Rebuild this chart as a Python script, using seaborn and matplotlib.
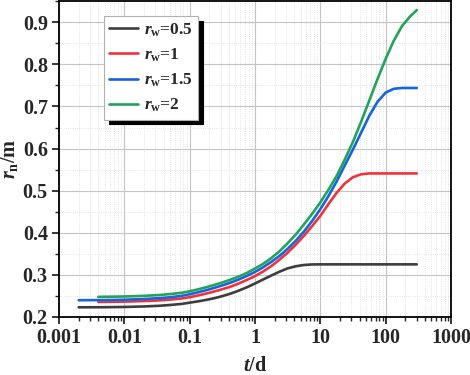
import numpy as np
import pandas as pd
import matplotlib
matplotlib.use("Agg")
import matplotlib.pyplot as plt
import matplotlib.ticker as mticker
import seaborn as sns

# Data (t in days, r_n in metres)
t_a = [0.002, 0.005, 0.01, 0.02, 0.035, 0.05, 0.075,
       0.1, 0.133, 0.178, 0.237, 0.316, 0.422, 0.562, 0.75,
       1, 1.33, 1.78, 2.37, 3.16, 4.22, 5.62, 7.5,
       10, 13.3, 17.8, 23.7, 31.6, 42.2, 56.2, 75,
       100, 133, 178, 237, 300]
t_b = [0.004] + t_a[2:]

rn_05 = [0.223, 0.2232, 0.2238, 0.225, 0.2267, 0.2285, 0.231,
         0.234, 0.237, 0.2405, 0.2445, 0.2495, 0.2555, 0.2625, 0.2705,
         0.2795, 0.289, 0.2985, 0.3075, 0.3155, 0.3205, 0.3235, 0.3248,
         0.325, 0.325, 0.325, 0.325, 0.325, 0.325, 0.325, 0.325,
         0.325, 0.325, 0.325, 0.325, 0.325]
rn_1 = [0.2358, 0.2365, 0.2378, 0.2395, 0.2413, 0.244,
        0.247, 0.251, 0.2555, 0.2605, 0.266, 0.272, 0.2795, 0.288,
        0.297, 0.308, 0.321, 0.336, 0.353, 0.372, 0.393, 0.416,
        0.440, 0.468, 0.495, 0.517, 0.532, 0.539, 0.541, 0.541,
        0.541, 0.541, 0.541, 0.541, 0.541]
rn_15 = [0.2398, 0.2402, 0.241, 0.2427, 0.2448, 0.2468, 0.2502,
         0.254, 0.2585, 0.2635, 0.269, 0.275, 0.2815, 0.289, 0.2975,
         0.307, 0.318, 0.331, 0.345, 0.362, 0.381, 0.403, 0.428,
         0.456, 0.487, 0.522, 0.560, 0.598, 0.638, 0.678, 0.711,
         0.733, 0.742, 0.744, 0.744, 0.744]
rn_2 = [0.2478, 0.2487, 0.2502, 0.2523, 0.2544, 0.2575,
        0.261, 0.2655, 0.2705, 0.276, 0.282, 0.2885, 0.296, 0.3045,
        0.315, 0.326, 0.340, 0.356, 0.375, 0.396, 0.420, 0.445,
        0.472, 0.502, 0.535, 0.574, 0.616, 0.664, 0.714, 0.765,
        0.813, 0.856, 0.891, 0.914, 0.929]

x_ticks = [0.001, 0.01, 0.1, 1, 10, 100, 1000]
x_ticklabels = ["0.001", "0.01", "0.1", "1", "10", "100", "1000"]
y_ticks = [0.2, 0.3, 0.4, 0.5, 0.6, 0.7, 0.8, 0.9]

labels = [r"$r_\mathrm{w}$=0.5", r"$r_\mathrm{w}$=1",
          r"$r_\mathrm{w}$=1.5", r"$r_\mathrm{w}$=2"]
colors = ["#3d3d3d", "#f0333a", "#1664e0", "#23a259"]

df = pd.concat([
    pd.DataFrame({"t": t_a, "rn": rn_05, "case": labels[0]}),
    pd.DataFrame({"t": t_b, "rn": rn_1, "case": labels[1]}),
    pd.DataFrame({"t": t_a, "rn": rn_15, "case": labels[2]}),
    pd.DataFrame({"t": t_b, "rn": rn_2, "case": labels[3]}),
], ignore_index=True)

sns.set_style("ticks")
plt.rcParams["font.family"] = ["Liberation Serif", "DejaVu Serif"]
plt.rcParams["font.weight"] = "bold"
plt.rcParams["mathtext.fontset"] = "custom"
plt.rcParams["mathtext.rm"] = "Liberation Serif:bold"
plt.rcParams["mathtext.it"] = "Liberation Serif:bold:italic"
plt.rcParams["mathtext.bf"] = "Liberation Serif:bold"

fig = plt.figure(figsize=(4.7, 3.75), dpi=100)
ax = fig.add_axes([0.1255, 0.1547, 0.834, 0.842])

sns.lineplot(data=df, x="t", y="rn", hue="case", palette=colors,
             estimator=None, linewidth=1.9, ax=ax)

ax.set_xscale("log")
ax.set_xlim(0.001, 1000)
ax.set_ylim(0.2, 0.95)
ax.xaxis.set_major_locator(mticker.FixedLocator(x_ticks))
ax.xaxis.set_major_formatter(mticker.FixedFormatter(x_ticklabels))
ax.xaxis.set_minor_locator(mticker.LogLocator(base=10, subs=np.arange(2, 10), numticks=20))
ax.xaxis.set_minor_formatter(mticker.NullFormatter())
ax.yaxis.set_major_locator(mticker.FixedLocator(y_ticks))
ax.yaxis.set_minor_locator(mticker.MultipleLocator(0.05))
ax.yaxis.set_major_formatter(mticker.FormatStrFormatter("%.1f"))

ax.grid(which="major", color="#c4c4c4", linewidth=0.8)
ax.grid(which="minor", color="#dcdcdc", linewidth=0.6, linestyle=":")
ax.set_axisbelow(True)

for s in ax.spines.values():
    s.set_linewidth(1.3)
    s.set_color("black")
ax.tick_params(which="major", direction="out", length=5, width=1.3,
               labelsize=14.5, pad=3)
ax.tick_params(which="minor", direction="out", length=3, width=1.0)
for lab in ax.get_xticklabels() + ax.get_yticklabels():
    lab.set_fontweight("bold")

ax.set_xlabel(r"$t$/d", fontsize=14.5, fontweight="bold", labelpad=6)
ax.set_ylabel(r"$r_\mathrm{n}$/m", fontsize=14.5, fontweight="bold", labelpad=2)

leg = ax.legend(loc="upper left", bbox_to_anchor=(0.115, 0.953),
                borderaxespad=0, fancybox=False, framealpha=1,
                edgecolor="#b0b0b0", fontsize=12.5, handlelength=1.65,
                handletextpad=0.35, labelspacing=0.45, borderpad=0.3,
                shadow={"ox": 3.5, "oy": -3.5, "color": "black", "alpha": 1})
for txt in leg.get_texts():
    txt.set_fontweight("bold")
leg.get_frame().set_linewidth(0.8)

fig.savefig("out.png", dpi=100)
